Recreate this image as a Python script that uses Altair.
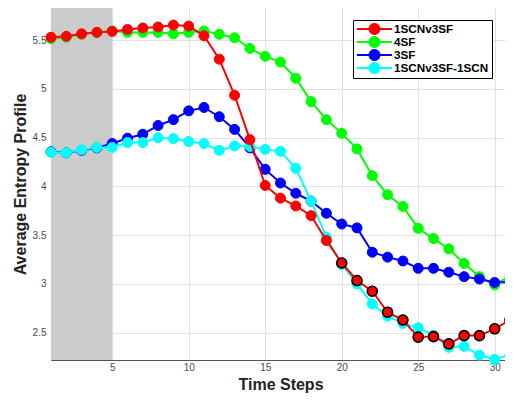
import math
import altair as alt
import pandas as pd

# ---- data ----
steps = list(range(1, 32))
series_names = ["1SCNv3SF", "4SF", "3SF", "1SCNv3SF-1SCN"]
series_colors = ["#ff0000", "#00ff00", "#0000ff", "#00ffff"]

red = [5.53, 5.54, 5.565, 5.58, 5.59, 5.61, 5.625, 5.635, 5.655, 5.645, 5.545,
       5.305, 4.935, 4.48, 4.01, 3.88, 3.80, 3.70, 3.445, 3.215, 3.035, 2.925,
       2.71, 2.63, 2.455, 2.46, 2.385, 2.47, 2.47, 2.54, 2.63]
green = [5.515, 5.53, 5.56, 5.58, 5.595, 5.58, 5.58, 5.58, 5.565, 5.58, 5.595,
         5.56, 5.525, 5.415, 5.335, 5.275, 5.11, 4.87, 4.685, 4.545, 4.385, 4.11,
         3.915, 3.795, 3.57, 3.465, 3.36, 3.21, 3.075, 2.99, 3.08]
blue = [4.355, 4.345, 4.37, 4.395, 4.44, 4.495, 4.535, 4.625, 4.685, 4.775, 4.81,
        4.715, 4.585, 4.395, 4.175, 4.035, 3.93, 3.85, 3.725, 3.615, 3.575, 3.325,
        3.275, 3.235, 3.16, 3.16, 3.12, 3.075, 3.05, 3.015, 3.02]
cyan = [4.35, 4.345, 4.375, 4.40, 4.40, 4.45, 4.45, 4.50, 4.49, 4.46, 4.44,
        4.37, 4.415, 4.41, 4.38, 4.36, 4.185, 3.85, 3.48, 3.2, 3.0, 2.795,
        2.67, 2.595, 2.55, 2.475, 2.35, 2.36, 2.27, 2.225, 2.275]
highlight_from = 20  # red markers with black edge from this step on

shade_start, shade_end = 1, 5
x_domain = [1, 31]
y_domain = [2.22, 5.83]
x_ticks = [5, 10, 15, 20, 25, 30]
y_ticks = [2.5, 3, 3.5, 4, 4.5, 5, 5.5]

values = {"1SCNv3SF": red, "4SF": green, "3SF": blue, "1SCNv3SF-1SCN": cyan}
rows = []
for name in series_names:
    for t, v in zip(steps, values[name]):
        rows.append({"t": t, "v": v, "series": name})
df = pd.DataFrame(rows)
hl = df[(df.series == "1SCNv3SF") & (df.t >= highlight_from)]
shade_df = pd.DataFrame({"x0": [shade_start], "x1": [shade_end],
                         "y0": [y_domain[0]], "y1": [y_domain[1]]})

FONT = "Liberation Sans"
xscale = alt.Scale(domain=x_domain, nice=False, zero=False)
yscale = alt.Scale(domain=y_domain, nice=False, zero=False)
cscale = alt.Scale(domain=series_names, range=series_colors)

# legend glyph: horizontal line with a dot (polygon circle) in the middle.
# Units are scaled by sqrt(symbolSize)/2 = 5 px.
poly = [(math.cos(2 * math.pi * k / 20), math.sin(2 * math.pi * k / 20))
        for k in range(20)]
legend_symbol = "M-3.5,0L3.5,0M" + "L".join(f"{a:.3f},{b:.3f}" for a, b in poly) + "Z"

xaxis = alt.Axis(values=x_ticks, title="Time Steps", grid=True, tickSize=0,
                 labelPadding=2, titleBaseline="alphabetic", titleY=29)
yaxis = alt.Axis(values=y_ticks, title="Average Entropy Profile", grid=True,
                 tickSize=0, format="~g", labelPadding=5, titlePadding=4)

shade = alt.Chart(shade_df).mark_rect(color="#cbcbcb").encode(
    x=alt.X("x0:Q", scale=xscale, axis=xaxis),
    x2="x1:Q",
    y=alt.Y("y0:Q", scale=yscale, axis=yaxis),
    y2="y1:Q",
)

layers = [shade]
draw_order = ["4SF", "3SF", "1SCNv3SF-1SCN", "1SCNv3SF"]
for name in draw_order:
    base = alt.Chart(df).transform_filter(alt.datum.series == name)
    enc = dict(
        x=alt.X("t:Q", scale=xscale, axis=xaxis),
        y=alt.Y("v:Q", scale=yscale, axis=yaxis),
        color=alt.Color("series:N", scale=cscale,
                        legend=alt.Legend(title=None)),
    )
    layers.append(base.mark_line(strokeWidth=2).encode(**enc))
    layers.append(base.mark_point(filled=True, opacity=1, size=100,
                                  strokeWidth=1).encode(
        stroke=alt.Color("series:N", scale=cscale, legend=None), **enc))

layers.append(alt.Chart(hl).mark_point(filled=True, opacity=1, size=100,
                                      color="#ff0000", stroke="black",
                                      strokeWidth=1.6).encode(
    x=alt.X("t:Q", scale=xscale, axis=xaxis),
    y=alt.Y("v:Q", scale=yscale, axis=yaxis),
))

chart = alt.layer(*layers).properties(
    width=459, height=352,
    autosize=alt.AutoSizeParams(type="none"),
    padding={"left": 43, "top": 0, "right": -5, "bottom": 33},
).configure_view(stroke=None).configure_axis(
    labelFont=FONT, titleFont=FONT, labelFontSize=10, labelColor="#4a4a4a",
    titleFontSize=16, titleFontWeight="bold", titleColor="#222222",
    gridColor="#e2e2e2", gridWidth=1, domainColor="#555555", domainWidth=1,
).configure_legend(
    orient="none", legendX=302, legendY=12, strokeColor="black",
    fillColor="white", padding=3, symbolType=legend_symbol, symbolSize=100,
    symbolOffset=12.5, symbolStrokeWidth=2, labelFont=FONT, labelFontSize=11.7,
    labelFontWeight="bold", labelColor="black", labelOffset=13.5, rowPadding=-1,
    clipHeight=12, symbolOpacity=1, cornerRadius=0,
)

chart.save("out.html", embed_options={"renderer": "svg", "actions": False})
